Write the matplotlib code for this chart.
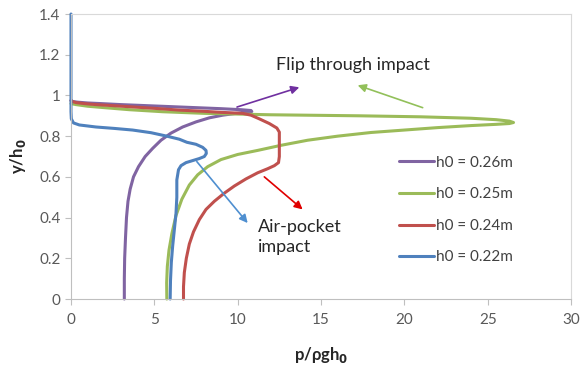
import matplotlib
matplotlib.use('Agg')
import matplotlib.pyplot as plt

plt.rcParams['font.family'] = ['Lato', 'DejaVu Sans']
plt.rcParams['mathtext.default'] = 'bf'

# pressure profiles p/rho g h0 (x) against y/h0 (y)
x_026 = [3.2, 3.2, 3.22, 3.27, 3.33, 3.42, 3.55, 3.75, 4.05, 4.45, 4.9, 5.4, 6.0, 6.7, 7.5, 8.3,
         9.1, 9.9, 10.5, 10.85, 10.8, 10.2, 9.0, 7.5, 6.0, 4.5, 3.0, 1.8, 1.0, 0.4, 0.1, 0.0]
y_026 = [0.0, 0.1, 0.2, 0.3, 0.4, 0.48, 0.54, 0.6, 0.65, 0.7, 0.74, 0.78, 0.815, 0.845, 0.87, 0.89,
         0.903, 0.912, 0.917, 0.921, 0.926, 0.93, 0.935, 0.94, 0.945, 0.95, 0.955, 0.96, 0.963, 0.967, 0.97, 0.975]

x_025 = [5.75, 5.74, 5.78, 5.88, 6.05, 6.3, 6.65, 7.1, 7.6, 8.2, 9.0, 10.0, 11.2, 12.6, 14.2, 16.0,
         18.0, 20.0, 22.0, 24.0, 25.5, 26.3, 26.55, 26.3, 25.5, 24.0, 21.0, 17.3, 12.0, 8.0, 5.5,
         3.5, 2.0, 1.0, 0.3, 0.0]
y_025 = [0.0, 0.08, 0.16, 0.24, 0.32, 0.41, 0.49, 0.56, 0.61, 0.65, 0.685, 0.71, 0.73, 0.755, 0.78, 0.8,
         0.818, 0.83, 0.842, 0.852, 0.858, 0.862, 0.867, 0.874, 0.881, 0.888, 0.895, 0.9, 0.905, 0.912, 0.92,
         0.93, 0.94, 0.947, 0.955, 0.96]

x_024 = [6.75, 6.75, 6.8, 6.92, 7.1, 7.35, 7.7, 8.1, 8.6, 9.2, 9.8, 10.5, 11.2, 11.8, 12.2, 12.45,
         12.5, 12.5, 12.35, 11.9, 11.3, 10.8, 10.3, 9.0, 8.0, 6.5, 5.3, 4.0, 2.5, 1.5, 0.8, 0.3, 0.1, 0.0]
y_024 = [0.0, 0.06, 0.13, 0.2, 0.27, 0.33, 0.39, 0.44, 0.48, 0.52, 0.555, 0.59, 0.62, 0.64, 0.655, 0.67,
         0.7, 0.82, 0.84, 0.862, 0.885, 0.903, 0.912, 0.917, 0.922, 0.928, 0.935, 0.942, 0.95, 0.955, 0.96,
         0.965, 0.97, 0.975]

x_022 = [0.0, 0.0, 0.0, 0.02, 0.15, 0.5, 1.5, 2.6, 3.7, 4.8, 5.75, 6.5, 6.95, 7.5, 7.9, 8.1, 8.12,
         8.0, 7.7, 7.3, 6.9, 6.6, 6.45, 6.4, 6.35, 6.35, 6.3, 6.2, 6.1, 6.02, 5.97, 5.95]
y_022 = [1.4, 1.0, 0.92, 0.885, 0.865, 0.855, 0.845, 0.838, 0.83, 0.817, 0.8, 0.785, 0.77, 0.76, 0.745, 0.73, 0.715,
         0.7, 0.69, 0.68, 0.67, 0.655, 0.635, 0.61, 0.585, 0.5, 0.42, 0.34, 0.26, 0.18, 0.09, 0.0]

labels = ['h0 = 0.26m', 'h0 = 0.25m', 'h0 = 0.24m', 'h0 = 0.22m']
colors = ['#8064A2', '#9BBB59', '#C0504D', '#4F81BD']

xticks = [0, 5, 10, 15, 20, 25, 30]
yticks = [0, 0.2, 0.4, 0.6, 0.8, 1.0, 1.2, 1.4]
ytick_labels = ['0', '0.2', '0.4', '0.6', '0.8', '1', '1.2', '1.4']

fig = plt.figure(figsize=(5.8, 3.69), dpi=100)
ax = fig.add_axes([0.1224, 0.1897, 0.8621, 0.7723])

series = [(x_026, y_026), (x_025, y_025), (x_024, y_024), (x_022, y_022)]
for (xs, ys), lab, c in zip(series, labels, colors):
    ax.plot(xs, ys, color=c, lw=2.2, label=lab, solid_joinstyle='round', solid_capstyle='round',
            clip_on=False)

ax.set_xlim(0, 30)
ax.set_ylim(0, 1.4)
ax.set_xticks(xticks)
ax.set_yticks(yticks)
ax.set_yticklabels(ytick_labels)
ax.tick_params(colors='#BFBFBF', labelcolor='#595959', labelsize=11, length=4, direction='out')
ax.tick_params(axis='x', pad=6)
for side in ['top', 'right']:
    ax.spines[side].set_color('#D9D9D9')
for side in ['left', 'bottom']:
    ax.spines[side].set_color('#BFBFBF')

ax.set_xlabel('p/ρgh$_0$', fontsize=12, fontweight='bold', color='#262626', va='center')
ax.set_ylabel('y/h$_0$', fontsize=12, fontweight='bold', color='#262626', va='center')
ax.xaxis.set_label_coords(0.5, -0.196)
ax.yaxis.set_label_coords(-0.105, 0.5)

leg = ax.legend(loc='center left', bbox_to_anchor=(0.655, 0.312), frameon=False, fontsize=11,
                handlelength=2.3, handletextpad=0.15, labelspacing=1.15, borderpad=0, borderaxespad=0)
for t in leg.get_texts():
    t.set_color('#404040')

# annotations
ax.text(12.3, 1.15, 'Flip through impact', fontsize=13, color='#262626', va='center', ha='left')
ax.text(11.2, 0.305, 'Air-pocket\nimpact', fontsize=13, color='#262626', va='center', ha='left',
        linespacing=1.25)
ax.annotate('', xy=(13.7, 1.04), xytext=(9.96, 0.943),
            arrowprops=dict(arrowstyle='-|>', color='#7030A0', lw=1.2, mutation_scale=12, shrinkA=0, shrinkB=0))
ax.annotate('', xy=(17.2, 1.05), xytext=(21.1, 0.94),
            arrowprops=dict(arrowstyle='-|>', color='#92C05A', lw=1.2, mutation_scale=12, shrinkA=0, shrinkB=0))
ax.annotate('', xy=(10.6, 0.373), xytext=(7.55, 0.675),
            arrowprops=dict(arrowstyle='-|>', color='#4F8FD0', lw=1.2, mutation_scale=12, shrinkA=0, shrinkB=0))
ax.annotate('', xy=(13.9, 0.44), xytext=(11.6, 0.6),
            arrowprops=dict(arrowstyle='-|>', color='#E00000', lw=1.2, mutation_scale=12, shrinkA=0, shrinkB=0))

fig.savefig('out.png', dpi=100)
